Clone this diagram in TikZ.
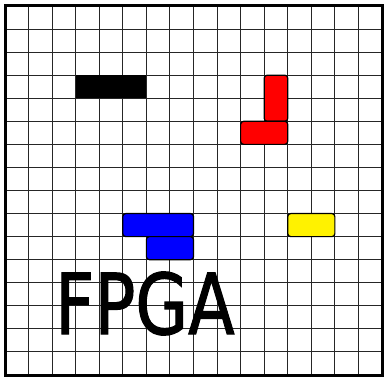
\documentclass[tikz,border=0pt]{standalone}
\usepackage{fontspec}
\newfontfamily\labelfont[FakeBold=1.5]{DejaVu Sans}

\tikzset{
  block/.style={draw=black, line width=1.2pt, rounded corners=3pt},
}

\begin{document}
\begin{tikzpicture}[x=1pt, y=1pt]
\useasboundingbox (0,0) rectangle (385,377);
\fill[white] (0,0) rectangle (385,377);

\begin{scope}[shift={(5,2)}, x=23.5625pt, y=23.0625pt]
% Draw grid
\draw[black!85, line width=1pt, step=1] (0,0) grid (16,16);

% Draw used blocks
\fill[black] (3,12) rectangle (6,13);
\draw[block, fill=red] (11,11) rectangle (12,13);
\draw[block, fill=red] (10,10) rectangle (12,11);
\draw[block, fill=blue] (5,6) rectangle (8,7);
\draw[block, fill=blue] (6,5) rectangle (8,6);
\draw[block, fill=yellow] (12,6) rectangle (14,7);

% Draw border
\draw[line width=3pt] (0,0) rectangle (16,16);

% Label
\node[font=\labelfont\fontsize{84}{84}\selectfont, xscale=0.81] (fpga) at (5.94,3.1) {FPGA};
\end{scope}
\end{tikzpicture}
\end{document}
